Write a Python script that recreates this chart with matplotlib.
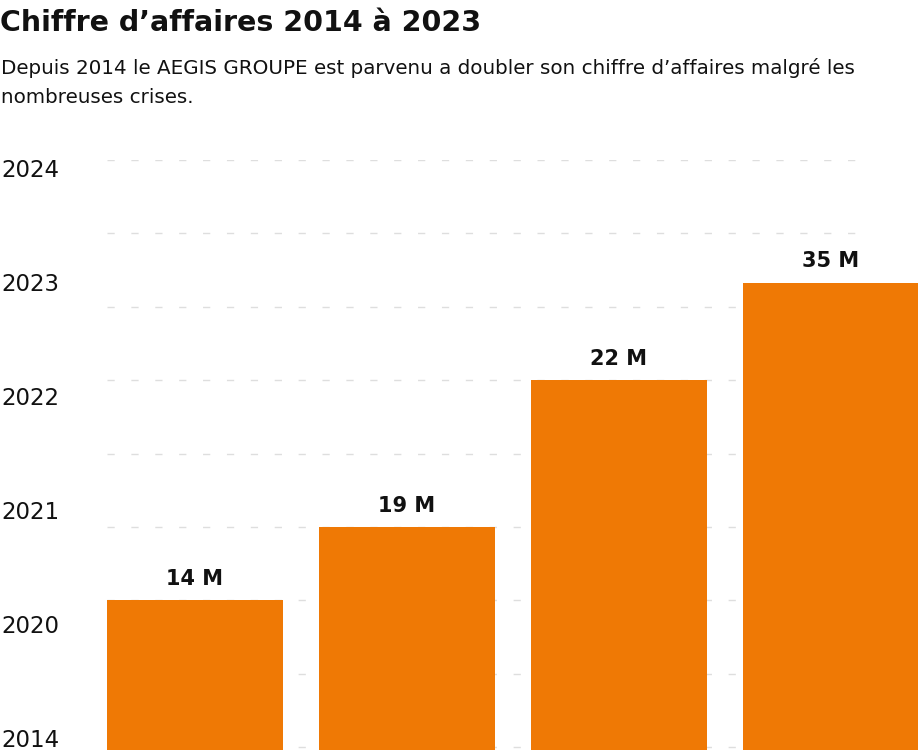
import numpy as np
import matplotlib
matplotlib.use('Agg')
import matplotlib.pyplot as plt
import matplotlib.transforms as mtransforms

# données
bar_heights = [2.0, 3.0, 5.0, 6.33]          # hauteur des barres (unités de grille)
bar_labels = ['14 M', '19 M', '22 M', '35 M']
year_labels = ['2014', '2020', '2021', '2022', '2023', '2024']
grid_levels = list(range(0, 9))

title = 'Chiffre d\u2019affaires 2014 à 2023'
subtitle_lines = ['Depuis 2014 le AEGIS GROUPE est parvenu a doubler son chiffre d\u2019affaires malgré les',
                  'nombreuses crises.']

ORANGE = '#ef7905'
TEXT = '#111111'
GRID = '#dedede'

plt.rcParams['font.family'] = ['DejaVu Sans']

W, H = 918, 750
fig = plt.figure(figsize=(W / 100, H / 100), dpi=100)
fig.patch.set_facecolor('white')

# zone de tracé
ax = fig.add_axes([107 / W, 0, (868 - 107) / W, (750 - 160) / H])
y_low = -0.04
ax.set_ylim(y_low, 8)
ax.set_xlim(-0.415, 3.175)

x = np.arange(len(bar_heights))
heights = np.array(bar_heights)
ax.bar(x, heights - y_low, bottom=y_low, width=0.83, color=ORANGE,
       clip_on=False, zorder=2)

# étiquettes des barres
for xi, h, lab in zip(x, heights, bar_labels):
    ax.annotate(lab, (xi, h), xytext=(0, 11), textcoords='offset points',
                ha='center', va='baseline', fontsize=15, fontweight='bold',
                color=TEXT)

# grille pointillée
ax.set_yticks(grid_levels)
ax.set_yticklabels([])
ax.set_xticks([])
ax.tick_params(left=False, bottom=False)
ax.grid(axis='y', color=GRID, linewidth=1.0, dashes=(5.2, 12))
ax.set_axisbelow(True)
for s in ax.spines.values():
    s.set_visible(False)

# années à gauche
trans = mtransforms.blended_transform_factory(fig.transFigure, ax.transData)
step = 114 / 73.4
for i, lab in enumerate(year_labels):
    ax.text(0.001, i * step, lab, transform=trans, ha='left', va='baseline',
            fontsize=16.5, color=TEXT, clip_on=False)

# titre et sous-titre
fig.text(0.0, 1 - 31 / H, title, ha='left', va='baseline', fontsize=20.5,
         fontweight='bold', color=TEXT)
for k, line in enumerate(subtitle_lines):
    fig.text(0.001, 1 - (74 + 29 * k) / H, line, ha='left', va='baseline',
             fontsize=14.3, color=TEXT)

fig.savefig('out.png', dpi=100, facecolor='white')
